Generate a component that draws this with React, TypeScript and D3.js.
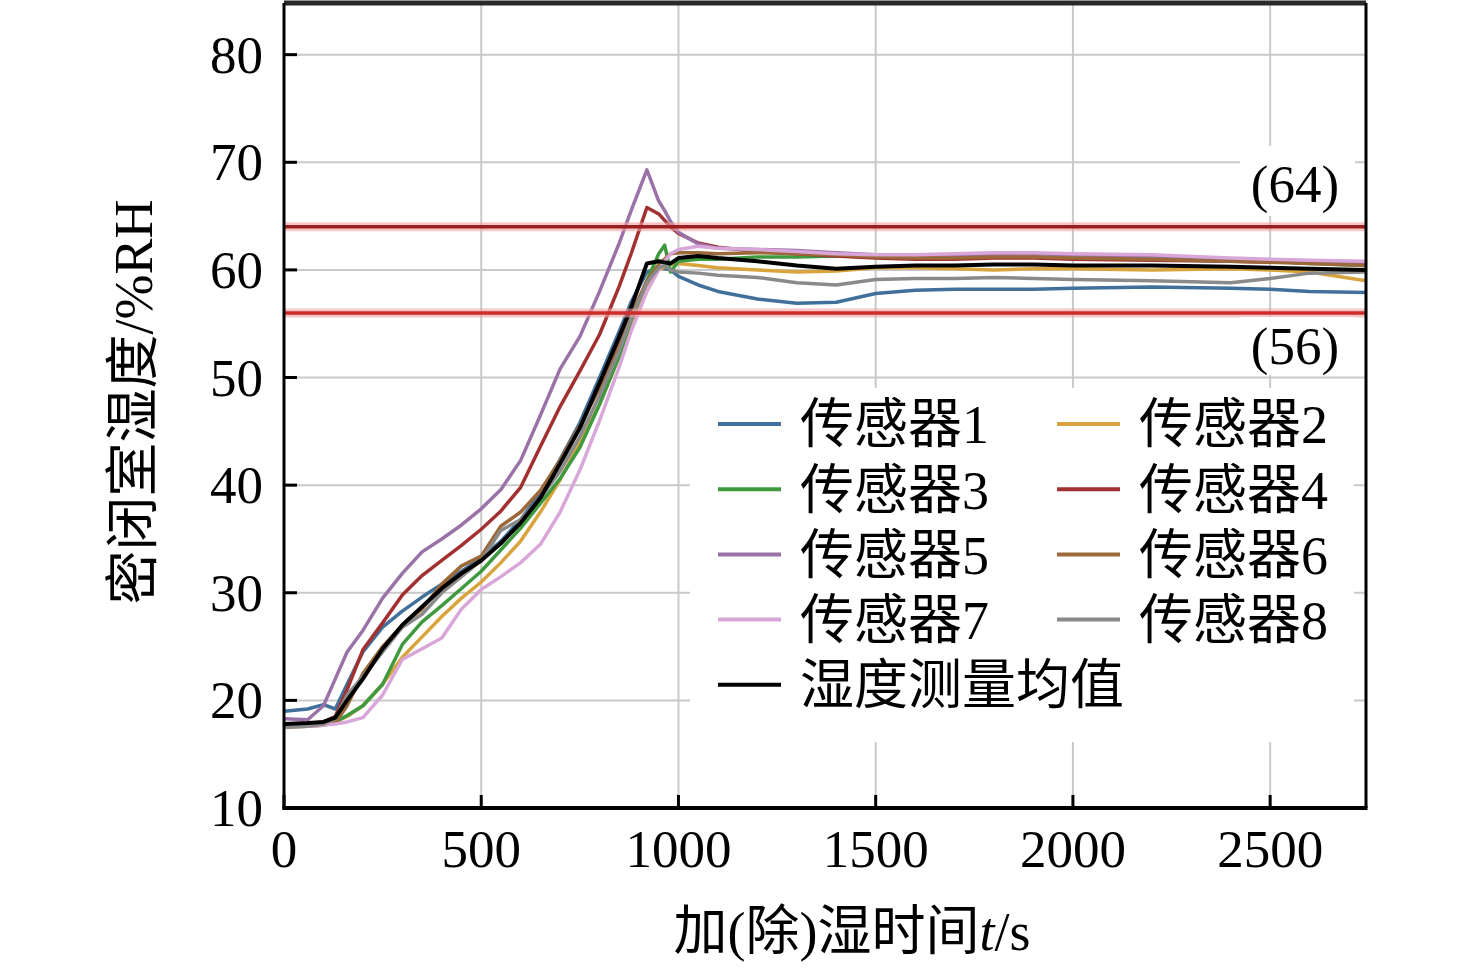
import * as d3 from "d3"

// time grid (s) shared by all series
const TIME = [0, 60, 100, 130, 160, 200, 250, 300, 350, 400, 450, 500, 550, 600, 650, 700, 750, 800, 850, 880, 920, 950, 965, 980, 1000, 1050, 1100, 1200, 1300, 1400, 1500, 1600, 1700, 1800, 1900, 2000, 2200, 2400, 2500, 2600, 2743]

const S1 = [19.0, 19.2, 19.6, 19.2, 21.5, 24.5, 26.8, 28.3, 29.6, 30.8, 32.0, 33.2, 34.8, 36.8, 39.3, 42.4, 45.8, 50.0, 54.3, 57.0, 59.8, 60.2, 60.1, 60.0, 59.4, 58.6, 58.0, 57.3, 56.9, 57.0, 57.8, 58.1, 58.2, 58.2, 58.2, 58.3, 58.4, 58.3, 58.2, 58.0, 57.9]
const S2 = [17.7, 17.7, 17.8, 18.0, 18.5, 19.5, 21.5, 24.0, 25.9, 27.8, 29.5, 31.0, 32.8, 34.8, 37.5, 40.5, 44.0, 47.5, 52.0, 55.0, 58.6, 60.0, 60.3, 60.5, 60.6, 60.4, 60.2, 60.0, 59.8, 59.9, 60.2, 60.2, 60.1, 60.0, 60.1, 60.1, 60.0, 60.1, 60.0, 59.8, 59.0]
const S3 = [17.8, 17.8, 17.9, 18.0, 18.6, 19.5, 21.5, 25.2, 27.3, 28.8, 30.4, 32.0, 34.0, 36.0, 38.3, 40.6, 43.5, 47.5, 52.0, 55.3, 59.0, 61.5, 62.3, 59.8, 60.8, 61.0, 61.0, 61.2, 61.2, 61.3, 61.2, 61.1, 61.2, 61.2, 61.2, 61.1, 61.0, 60.9, 60.8, 60.6, 60.4]
const S4 = [17.8, 17.8, 18.0, 18.5, 21.0, 24.7, 27.2, 29.8, 31.6, 33.0, 34.4, 35.9, 37.6, 39.8, 43.6, 47.3, 50.6, 54.0, 58.5, 61.5, 65.8, 65.2, 64.6, 64.0, 63.4, 62.5, 62.1, 61.7, 61.5, 61.3, 61.1, 61.0, 61.0, 61.1, 61.1, 61.0, 60.9, 60.8, 60.7, 60.7, 60.6]
const S5 = [18.3, 18.2, 19.5, 22.0, 24.5, 26.5, 29.5, 31.8, 33.8, 35.0, 36.3, 37.8, 39.6, 42.3, 46.5, 50.8, 53.8, 58.0, 62.5, 65.5, 69.3, 66.4, 65.5, 64.5, 63.5, 62.4, 62.0, 61.9, 61.8, 61.6, 61.4, 61.3, 61.3, 61.4, 61.5, 61.4, 61.2, 61.0, 60.9, 60.8, 60.7]
const S6 = [17.5, 17.6, 17.7, 17.9, 19.5, 22.5, 25.0, 27.0, 28.5, 30.8, 32.5, 33.4, 36.2, 37.5, 39.5, 42.3, 45.5, 49.0, 53.0, 55.8, 59.0, 60.5, 61.0, 61.5, 61.6, 61.6, 61.5, 61.6, 61.5, 61.4, 61.2, 61.1, 61.1, 61.2, 61.2, 61.1, 61.0, 60.8, 60.7, 60.6, 60.4]
const S7 = [17.6, 17.6, 17.7, 17.8, 18.0, 18.4, 20.5, 23.8, 24.8, 25.8, 28.5, 30.3, 31.5, 32.8, 34.5, 37.5, 41.4, 46.0, 51.0, 54.3, 58.0, 60.0, 60.8, 61.5, 61.9, 62.2, 62.0, 61.9, 61.7, 61.5, 61.4, 61.4, 61.5, 61.6, 61.6, 61.5, 61.4, 61.1, 61.0, 60.9, 60.8]
const S8 = [17.5, 17.6, 17.8, 18.3, 20.5, 22.2, 24.5, 26.8, 28.0, 30.0, 31.5, 33.0, 35.8, 36.8, 38.8, 41.3, 44.5, 48.3, 52.5, 55.5, 58.8, 60.2, 60.4, 60.0, 59.8, 59.7, 59.5, 59.3, 58.8, 58.6, 59.1, 59.2, 59.2, 59.3, 59.2, 59.1, 59.0, 58.8, 59.2, 59.7, 59.8]
const MEAN = [17.8, 17.9, 18.0, 18.4, 20.0, 22.0, 24.8, 27.0, 28.7, 30.4, 31.8, 33.0, 34.6, 36.5, 38.8, 42.0, 45.3, 49.5, 53.8, 56.5, 60.6, 60.8, 60.7, 60.6, 61.1, 61.3, 61.1, 60.8, 60.4, 60.1, 60.3, 60.4, 60.4, 60.5, 60.5, 60.4, 60.4, 60.3, 60.2, 60.1, 60.0]

const NAMES = ["传感器1", "传感器2", "传感器3", "传感器4", "传感器5", "传感器6", "传感器7", "传感器8", "湿度测量均值"]
const COLORS = ["#41709b", "#d9a43c", "#3f9a3f", "#a33030", "#9a72a8", "#9c6a3a", "#d8a6d8", "#8a8a8a", "#000000"]

const X_TICKS = [0, 500, 1000, 1500, 2000, 2500]
const Y_TICKS = [10, 20, 30, 40, 50, 60, 70, 80]
const LIMITS = [64, 56]

const FONT = "'Liberation Serif', 'Times New Roman', 'Noto Sans CJK SC', serif"

export default function App() {
  const width = 1476
  const height = 970
  const left = 284, right = 1366, top = 3, bottom = 808

  const x = d3.scaleLinear().domain([0, 2743]).range([left, right])
  const y = d3.scaleLinear().domain([10, 84.8]).range([bottom, top])

  const series = [S1, S2, S3, S4, S5, S6, S7, S8, MEAN].map((values, i) => ({
    name: NAMES[i],
    color: COLORS[i],
    points: TIME.map((t, j) => [t, values[j]] as [number, number]),
  }))

  const line = d3
    .line<[number, number]>()
    .x((d) => x(d[0]))
    .y((d) => y(d[1]))

  return (
    <svg
      width={width}
      height={height}
      style={{ position: "absolute", left: 0, top: 0, display: "block", background: "#fff" }}
      fontFamily={FONT}
    >
      <defs>
        <clipPath id="plot">
          <rect x={left} y={top} width={right - left} height={bottom - top} />
        </clipPath>
      </defs>

      {/* grid */}
      <g stroke="#c9c9c9" strokeWidth={2}>
        {X_TICKS.filter((t) => t > 0).map((t) => (
          <line key={"gx" + t} x1={x(t)} x2={x(t)} y1={top} y2={bottom} />
        ))}
        {Y_TICKS.filter((t) => t > 10).map((t) => (
          <line key={"gy" + t} x1={left} x2={right} y1={y(t)} y2={y(t)} />
        ))}
      </g>

      {/* sensor curves */}
      <g clipPath="url(#plot)" fill="none" strokeLinejoin="round">
        {series.map((s, i) => (
          <path
            key={s.name}
            d={line(s.points) ?? ""}
            stroke={s.color}
            strokeWidth={i === 8 ? 4 : 3.5}
          />
        ))}
      </g>

      {/* limit lines */}
      {LIMITS.map((v, i) => (
        <g key={"lim" + v}>
          <line x1={left} x2={right} y1={y(v)} y2={y(v)} stroke="#f2a0a0" strokeOpacity={0.6} strokeWidth={9} />
          <line x1={left} x2={right} y1={y(v)} y2={y(v)} stroke={i === 0 ? "#9c1f1f" : "#cf2b2b"} strokeWidth={3.5} />
        </g>
      ))}

      {/* limit labels */}
      <rect x={1240} y={146} width={115} height={70} fill="#fff" />
      <rect x={1240} y={317} width={115} height={58} fill="#fff" />
      {LIMITS.map((v, i) => (
        <text
          key={"ll" + v}
          x={1295}
          y={i === 0 ? y(v) - 25 : y(v) + 51}
          fontSize={53}
          textAnchor="middle"
        >
          ({v})
        </text>
      ))}

      {/* legend */}
      <rect x={690} y={388} width={664} height={354} fill="#fff" />
      {series.map((s, i) => {
        const col = i % 2
        const row = Math.floor(i / 2)
        const lx = col === 0 ? 718 : 1057
        const ly = 424 + row * 65.2
        return (
          <g key={"lg" + s.name}>
            <line x1={lx} x2={lx + 63} y1={ly} y2={ly} stroke={s.color} strokeWidth={4} />
            <text x={lx + 82} y={ly} dy="0.36em" fontSize={54}>
              {s.name}
            </text>
          </g>
        )
      })}

      {/* spines */}
      <line x1={left} x2={right} y1={top} y2={top} stroke="#2a2a2a" strokeWidth={5} />
      <line x1={right} x2={right} y1={top} y2={bottom} stroke="#000" strokeWidth={3} />
      <line x1={left} x2={left} y1={top} y2={bottom + 2} stroke="#000" strokeWidth={3} />
      <line x1={left - 1.5} x2={right + 1.5} y1={bottom} y2={bottom} stroke="#000" strokeWidth={4} />

      {/* ticks */}
      <g stroke="#000" strokeWidth={3}>
        {Y_TICKS.map((t) => (
          <line key={"ty" + t} x1={left} x2={left + 13} y1={y(t)} y2={y(t)} />
        ))}
        {X_TICKS.map((t) => (
          <line key={"tx" + t} x1={x(t)} x2={x(t)} y1={bottom} y2={bottom - 13} />
        ))}
      </g>

      {/* tick labels */}
      {Y_TICKS.map((t) => (
        <text key={"yl" + t} x={263} y={y(t)} dy="0.34em" fontSize={53} textAnchor="end">
          {t}
        </text>
      ))}
      {X_TICKS.map((t) => (
        <text key={"xl" + t} x={x(t)} y={867} fontSize={53} textAnchor="middle">
          {t}
        </text>
      ))}

      {/* axis titles */}
      <text x={852} y={950} fontSize={54} textAnchor="middle">
        加(除)湿时间<tspan fontStyle="italic">t</tspan>/s
      </text>
      <text
        transform={`translate(152, 402) rotate(-90)`}
        fontSize={54}
        textAnchor="middle"
      >
        密闭室湿度/%RH
      </text>
    </svg>
  )
}
